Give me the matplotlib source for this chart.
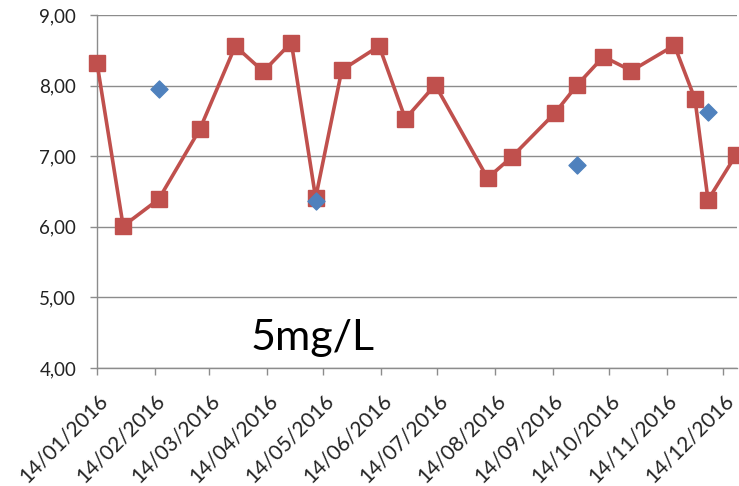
import matplotlib
matplotlib.use("Agg")
import matplotlib.pyplot as plt
import matplotlib.dates as mdates
import numpy as np
import pandas as pd

red_dates = ["2016-01-14", "2016-01-28", "2016-02-16", "2016-03-09", "2016-03-28",
             "2016-04-12", "2016-04-27", "2016-05-10", "2016-05-24", "2016-06-13",
             "2016-06-27", "2016-07-13", "2016-08-10", "2016-08-23", "2016-09-15",
             "2016-09-27", "2016-10-11", "2016-10-26", "2016-11-18", "2016-11-29",
             "2016-12-06", "2016-12-21"]
red_values = [8.32, 6.01, 6.39, 7.38, 8.56, 8.20, 8.61, 6.41, 8.22, 8.56, 7.53,
              8.01, 6.69, 6.99, 7.61, 8.01, 8.41, 8.21, 8.57, 7.81, 6.38, 7.02]
blue_dates = ["2016-02-16", "2016-05-10", "2016-09-27", "2016-12-06"]
blue_values = [7.95, 6.36, 6.87, 7.62]
tick_dates = ["2016-%02d-14" % m for m in range(1, 13)]
tick_labels = ["14/%02d/2016" % m for m in range(1, 13)]
y_ticks = [4, 5, 6, 7, 8, 9]
annotation = "5mg/L"

plt.rcParams['font.family'] = ['Lato', 'DejaVu Sans']

fig = plt.figure(figsize=(7.39, 4.86), dpi=100)
ax = fig.add_axes([97/739, 1-368/486, (737-97)/739, (368-15)/486])

rd = pd.to_datetime(red_dates)
bd = pd.to_datetime(blue_dates)
td = pd.to_datetime(tick_dates)

ax.plot(rd, red_values, color="#C0504D", lw=2.6, marker="s", markersize=12,
        markeredgecolor="#C0504D", clip_on=False, zorder=3)
ax.scatter(bd, blue_values, color="#4F81BD", marker="D", s=75, zorder=4, clip_on=False)

ax.set_ylim(4, 9)
ax.set_xlim(pd.Timestamp("2016-01-14"), pd.Timestamp("2016-12-21 12:00"))
ax.set_yticks(y_ticks)
ax.set_yticklabels([("%.2f" % v).replace(".", ",") for v in y_ticks], fontsize=13.5, color="#222222")
ax.set_xticks(td)
ax.set_xticklabels(tick_labels, rotation=45, ha="right", rotation_mode="anchor",
                   fontsize=15, color="#222222")

ax.grid(axis="y", color="#8C8C8C", lw=1)
ax.set_axisbelow(True)
for s in ["top", "right"]:
    ax.spines[s].set_visible(False)
for s in ["left", "bottom"]:
    ax.spines[s].set_color("#8C8C8C")
    ax.spines[s].set_linewidth(1)
ax.tick_params(axis="both", color="#8C8C8C", length=5, width=1, direction="out")
ax.tick_params(axis="y", pad=10)
ax.tick_params(axis="x", pad=11)

ax.text(pd.Timestamp("2016-04-05"), 4.25, annotation, fontsize=31, color="#000000",
        ha="left", va="baseline")

fig.savefig("out.png", dpi=100)
